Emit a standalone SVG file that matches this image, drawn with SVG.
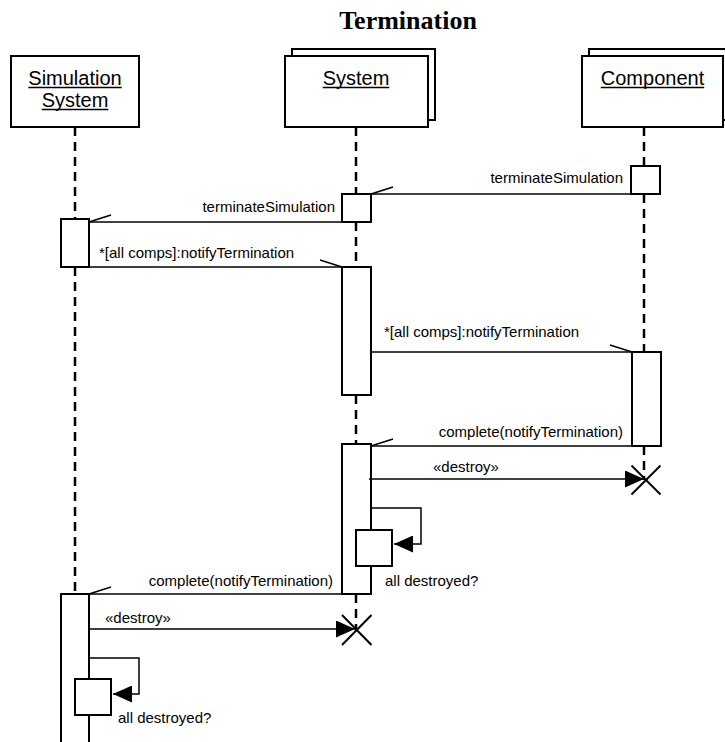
<svg xmlns="http://www.w3.org/2000/svg" width="725" height="742" viewBox="0 0 725 742">
<style>
.box{fill:#fff;stroke:#000;stroke-width:2}
.act{fill:#fff;stroke:#000;stroke-width:2}
.life{stroke:#000;stroke-width:2.5;stroke-dasharray:9 6;fill:none}
.msg{stroke:#000;stroke-width:1.5;fill:none}
.head{font-family:"Liberation Sans",Arial,sans-serif;font-size:20px;text-anchor:middle;fill:#000}
.lbl{font-family:"Liberation Sans",Arial,sans-serif;font-size:15px;fill:#000}
.end{text-anchor:end}
.title{font-family:"Liberation Serif","Times New Roman",serif;font-size:26px;font-weight:bold;text-anchor:middle;fill:#000}
.ul{stroke:#000;stroke-width:1.5}
.x{stroke:#000;stroke-width:2}
</style>
<defs>
<marker id="halfR" markerUnits="userSpaceOnUse" viewBox="0 0 24 20" refX="22" refY="10" markerWidth="24" markerHeight="20" orient="auto" overflow="visible">
<path d="M0,3 L22,10" stroke="#000" stroke-width="1.5" fill="none"/>
</marker>
<marker id="halfL" markerUnits="userSpaceOnUse" viewBox="0 0 24 20" refX="22" refY="10" markerWidth="24" markerHeight="20" orient="auto" overflow="visible">
<path d="M0,17 L22,10" stroke="#000" stroke-width="1.5" fill="none"/>
</marker>
<marker id="fill" markerUnits="userSpaceOnUse" viewBox="0 0 19 17" refX="19" refY="8.5" markerWidth="19" markerHeight="17" orient="auto">
<path d="M0,0 L19,8.5 L0,17 z" fill="#000"/>
</marker>
</defs>

<text class="title" x="408" y="29">Termination</text>

<g id="simulation-system">
<line class="life" x1="75" y1="127" x2="75" y2="219"/>
<line class="life" x1="75" y1="267" x2="75" y2="594"/>
<rect class="box" x="11" y="56" width="128" height="71"/>
<text class="head" x="75" y="85">Simulation</text>
<line class="ul" x1="28.3" y1="87.5" x2="121.7" y2="87.5"/>
<text class="head" x="75" y="107">System</text>
<line class="ul" x1="41.7" y1="109.5" x2="108.3" y2="109.5"/>
<rect class="act" x="61" y="219" width="28" height="48"/>
<rect class="act" x="61" y="594" width="28" height="160"/>
<rect class="act" x="75" y="679" width="36" height="36"/>
</g>

<g id="system">
<line class="life" x1="356" y1="127" x2="356" y2="194"/>
<line class="life" x1="356" y1="222" x2="356" y2="267"/>
<line class="life" x1="356" y1="395" x2="356" y2="444"/>
<line class="life" x1="356" y1="594" x2="356" y2="630"/>
<rect class="box" x="292" y="49" width="143" height="71"/>
<rect class="box" x="285" y="56" width="143" height="71"/>
<text class="head" x="356" y="85">System</text>
<line class="ul" x1="322.7" y1="87.5" x2="389.3" y2="87.5"/>
<rect class="act" x="342" y="194" width="29" height="28"/>
<rect class="act" x="342" y="267" width="29" height="128"/>
<rect class="act" x="342" y="444" width="29" height="150"/>
<rect class="act" x="356" y="530" width="36" height="36"/>
</g>

<g id="component">
<line class="life" x1="644" y1="127" x2="644" y2="166"/>
<line class="life" x1="644" y1="194" x2="644" y2="352"/>
<line class="life" x1="644" y1="446" x2="644" y2="480"/>
<rect class="box" x="589" y="49" width="143" height="71"/>
<rect class="box" x="582" y="56" width="141" height="71"/>
<text class="head" x="652.5" y="85">Component</text>
<line class="ul" x1="600.8" y1="87.5" x2="704.2" y2="87.5"/>
<rect class="act" x="631" y="166" width="29" height="28"/>
<rect class="act" x="632" y="352" width="29" height="94"/>
</g>

<g id="connectors">
<line class="msg" x1="631" y1="194" x2="371" y2="194" marker-end="url(#halfL)"/>
<text class="lbl end" x="623" y="183">terminateSimulation</text>

<line class="msg" x1="342" y1="222" x2="89" y2="222" marker-end="url(#halfL)"/>
<text class="lbl end" x="335" y="212">terminateSimulation</text>

<line class="msg" x1="89" y1="267" x2="342" y2="267" marker-end="url(#halfR)"/>
<text class="lbl" x="99" y="258">*[all comps]:notifyTermination</text>

<line class="msg" x1="371" y1="352" x2="632" y2="352" marker-end="url(#halfR)"/>
<text class="lbl" x="384" y="337">*[all comps]:notifyTermination</text>

<line class="msg" x1="632" y1="446" x2="371" y2="446" marker-end="url(#halfL)"/>
<text class="lbl end" x="623" y="437">complete(notifyTermination)</text>

<line class="msg" x1="369" y1="479" x2="644" y2="479" marker-end="url(#fill)"/>
<text class="lbl" x="433" y="472">«destroy»</text>
<line class="x" x1="631.5" y1="465.5" x2="660.5" y2="494.5"/>
<line class="x" x1="660.5" y1="465.5" x2="631.5" y2="494.5"/>

<path class="msg" d="M371,508 H421 V544 H394" marker-end="url(#fill)"/>
<text class="lbl" x="385" y="586">all destroyed?</text>

<line class="msg" x1="342" y1="594" x2="89" y2="594" marker-end="url(#halfL)"/>
<text class="lbl end" x="333" y="586">complete(notifyTermination)</text>

<line class="msg" x1="89" y1="629" x2="355" y2="629" marker-end="url(#fill)"/>
<text class="lbl" x="105" y="623">«destroy»</text>
<line class="x" x1="342" y1="615" x2="371.5" y2="645"/>
<line class="x" x1="371.5" y1="615" x2="342" y2="645"/>

<path class="msg" d="M89,658 H139 V694 H113" marker-end="url(#fill)"/>
<text class="lbl" x="118" y="723">all destroyed?</text>
</g>
</svg>
